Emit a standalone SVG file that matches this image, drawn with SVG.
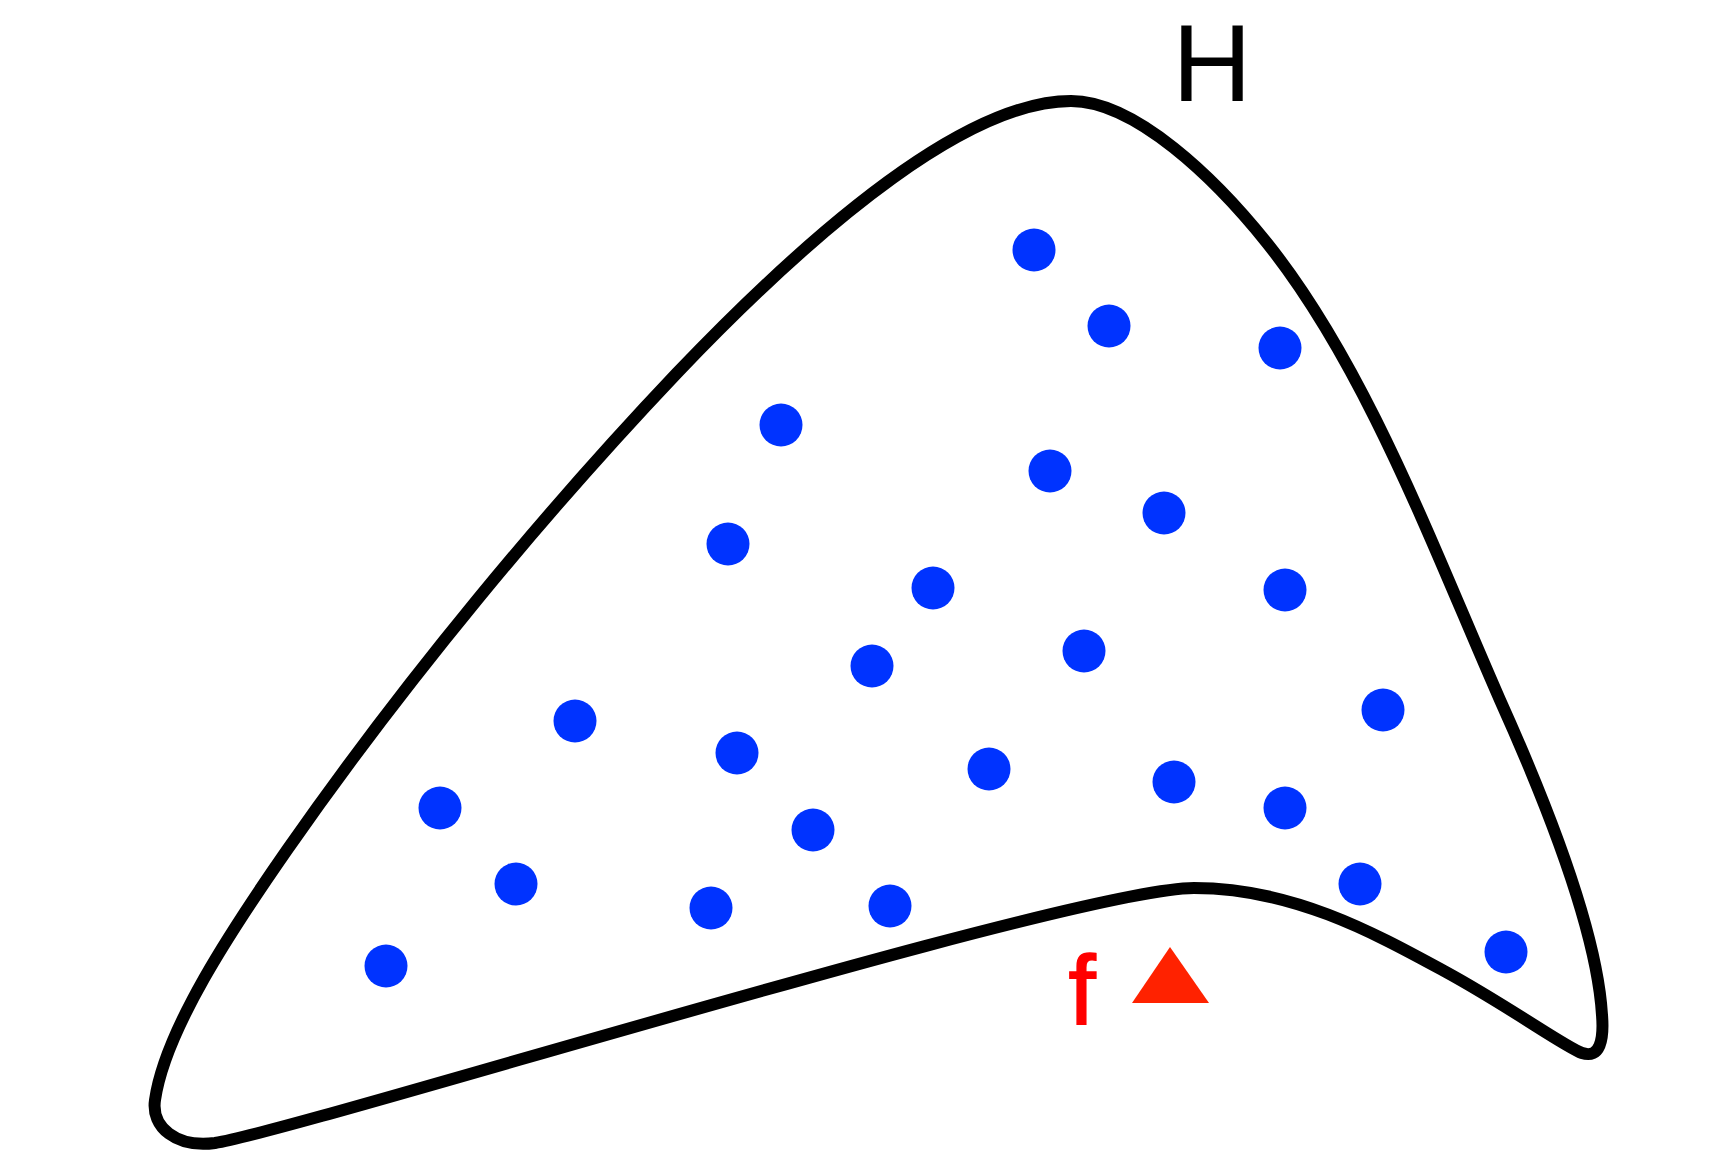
<svg xmlns="http://www.w3.org/2000/svg" width="1712" height="1170" viewBox="0 0 1712 1170">
<style>
.dot{fill:#0033FF}
.outline{fill:none;stroke:#000;stroke-width:12;stroke-linejoin:round}
.lbl{font-family:"Liberation Sans",Arial,sans-serif}
</style>
<rect width="1712" height="1170" fill="#fff"/>
<g id="region-H">
<path class="outline" d="M1071,101 C971,101 827,216 677,373 C547,510 407,678 287,850 C232,929 165,1030 155,1100 C151,1127 176,1148 215,1143 C300,1130 1074,888 1194,888 C1294,888 1376,934 1446,972 C1510,1007 1565,1047 1582,1053 C1600,1059 1604,1040 1602,1015 C1597,930 1545,800 1500,700 C1434,550 1367,368 1267,243 C1215,178 1135,101 1071,101 Z"/>
<text class="lbl" x="1212" y="101" font-size="110" text-anchor="middle" fill="#000">H</text>
</g>
<g id="points">
<circle class="dot" cx="1034" cy="250" r="21.5"/>
<circle class="dot" cx="1109" cy="326" r="21.5"/>
<circle class="dot" cx="1280" cy="348" r="21.5"/>
<circle class="dot" cx="781" cy="425" r="21.5"/>
<circle class="dot" cx="1050" cy="471" r="21.5"/>
<circle class="dot" cx="1164" cy="513" r="21.5"/>
<circle class="dot" cx="728" cy="544" r="21.5"/>
<circle class="dot" cx="933" cy="588" r="21.5"/>
<circle class="dot" cx="1285" cy="590" r="21.5"/>
<circle class="dot" cx="872" cy="666" r="21.5"/>
<circle class="dot" cx="1084" cy="651" r="21.5"/>
<circle class="dot" cx="575" cy="721" r="21.5"/>
<circle class="dot" cx="1383" cy="710" r="21.5"/>
<circle class="dot" cx="737" cy="753" r="21.5"/>
<circle class="dot" cx="989" cy="769" r="21.5"/>
<circle class="dot" cx="1174" cy="782" r="21.5"/>
<circle class="dot" cx="1285" cy="808" r="21.5"/>
<circle class="dot" cx="440" cy="808" r="21.5"/>
<circle class="dot" cx="813" cy="830" r="21.5"/>
<circle class="dot" cx="516" cy="884" r="21.5"/>
<circle class="dot" cx="711" cy="908" r="21.5"/>
<circle class="dot" cx="890" cy="906" r="21.5"/>
<circle class="dot" cx="1360" cy="884" r="21.5"/>
<circle class="dot" cx="386" cy="966" r="21.5"/>
<circle class="dot" cx="1506" cy="952" r="21.5"/>
</g>
<g id="f-point">
<text class="lbl" x="1082" y="1024" font-size="98" text-anchor="middle" fill="#FF0000" stroke="#FF0000" stroke-width="1.5">f</text>
<polygon points="1170,947 1132,1003 1209,1003" fill="#FF2200"/>
</g>
</svg>
